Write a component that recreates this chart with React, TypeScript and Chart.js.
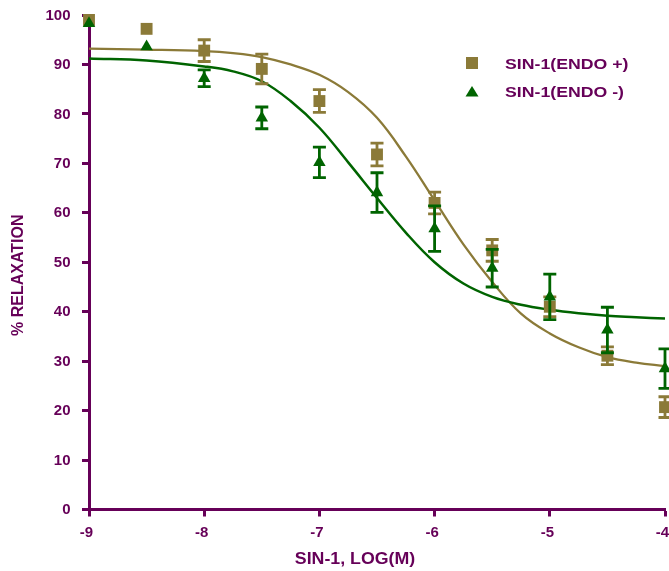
import React, { useEffect, useRef } from "react";
import { Chart, registerables } from "chart.js";

Chart.register(...registerables);

// ---- data ----
const doseLog = [-9, -8.5, -8, -7.5, -7, -6.5, -6, -5.5, -5, -4.5, -4];
const endoPlusMean = [99.0, 97.2, 92.8, 89.1, 82.6, 71.8, 62.0, 52.4, 41.0, 31.1, 20.7];
const endoPlusSem = [0, 0, 2.2, 3.0, 2.3, 2.3, 2.2, 2.2, 2.0, 1.8, 2.1];
const endoMinusMean = [98.3, 93.6, 87.2, 79.2, 70.2, 64.1, 56.8, 48.8, 43.0, 36.3, 28.5];
const endoMinusSem = [0, 0, 1.7, 2.2, 3.1, 4.0, 4.6, 3.8, 4.6, 4.6, 4.0];

const curveX = [-9, -8.5, -8, -7.75, -7.5, -7.25, -7, -6.75, -6.5, -6.25, -6, -5.75, -5.5, -5.25, -5, -4.75, -4.5, -4.25, -4];
const endoPlusFit = [93.2, 93.0, 92.7, 92.3, 91.5, 90.0, 87.9, 84.4, 79.2, 71.4, 62.5, 53.6, 46.0, 39.6, 35.6, 32.8, 30.8, 29.7, 29.0];
const endoMinusFit = [91.2, 90.8, 89.6, 88.6, 86.6, 82.6, 77.2, 70.2, 63.0, 56.0, 50.0, 45.7, 43.0, 41.4, 40.4, 39.7, 39.2, 38.9, 38.6];

const yTicks = [0, 10, 20, 30, 40, 50, 60, 70, 80, 90, 100];
const xTicks = [-9, -8, -7, -6, -5, -4];

const seriesNames = ["SIN-1(ENDO +)", "SIN-1(ENDO -)"];
const xTitle = "SIN-1, LOG(M)";
const yTitle = "% RELAXATION";

// ---- styles ----
const PURPLE = "#660058";
const OLIVE = "#8B7A38";
const GREEN = "#006400";
const FONT = "'Liberation Sans', Arial, sans-serif";

function drawStretched(ctx: CanvasRenderingContext2D, text: string, x: number, y: number, sx: number) {
  ctx.save();
  ctx.translate(x, y);
  ctx.scale(sx, 1);
  ctx.fillText(text, 0, 0);
  ctx.restore();
}

const errorBarPlugin = {
  id: "errorBars",
  beforeDatasetDraw(chart: any, args: any) {
    const ds = chart.data.datasets[args.index];
    const errs: number[] | undefined = ds.errors;
    if (!errs) return;
    const ctx = chart.ctx as CanvasRenderingContext2D;
    const xs = chart.scales.x;
    const ys = chart.scales.y;
    ctx.save();
    ctx.strokeStyle = ds.backgroundColor;
    ctx.lineWidth = 2.8;
    ds.data.forEach((p: any, i: number) => {
      const e = errs[i];
      if (!e) return;
      const px = xs.getPixelForValue(p.x);
      const top = ys.getPixelForValue(p.y + e);
      const bot = ys.getPixelForValue(p.y - e);
      ctx.beginPath();
      ctx.moveTo(px, top);
      ctx.lineTo(px, bot);
      ctx.moveTo(px - 6.5, top);
      ctx.lineTo(px + 6.5, top);
      ctx.moveTo(px - 6.5, bot);
      ctx.lineTo(px + 6.5, bot);
      ctx.stroke();
    });
    ctx.restore();
  },
};

const decorPlugin = {
  id: "decor",
  afterDraw(chart: any) {
    const ctx = chart.ctx as CanvasRenderingContext2D;
    const a = chart.chartArea;
    const xs = chart.scales.x;
    const ys = chart.scales.y;
    ctx.save();
    ctx.fillStyle = PURPLE;
    ctx.textBaseline = "middle";

    // tick labels
    ctx.font = `bold 15px ${FONT}`;
    ctx.textAlign = "right";
    yTicks.forEach((v) => {
      ctx.fillText(String(v), a.left - 18.5, ys.getPixelForValue(v) + 0.5);
    });
    ctx.textAlign = "center";
    xTicks.forEach((v) => {
      ctx.fillText(String(v), xs.getPixelForValue(v) - 2.5, a.bottom + 23.5);
    });

    // x axis title
    ctx.font = `bold 16px ${FONT}`;
    ctx.textAlign = "center";
    drawStretched(ctx, xTitle, a.left + 266, a.bottom + 50, 1.11);

    // y axis title
    ctx.save();
    ctx.translate(18.5, (a.top + a.bottom) / 2 + 13);
    ctx.rotate(-Math.PI / 2);
    ctx.font = `bold 16px ${FONT}`;
    ctx.textAlign = "center";
    ctx.fillText(yTitle, 0, 0);
    ctx.restore();

    // legend
    const lx = a.left + 383;
    const ly1 = a.top + 48;
    const ly2 = a.top + 77;
    ctx.fillStyle = OLIVE;
    ctx.fillRect(lx - 6, ly1 - 6, 12, 12);
    ctx.fillStyle = GREEN;
    ctx.beginPath();
    ctx.moveTo(lx, ly2 - 6);
    ctx.lineTo(lx + 6.5, ly2 + 4.5);
    ctx.lineTo(lx - 6.5, ly2 + 4.5);
    ctx.closePath();
    ctx.fill();
    ctx.fillStyle = PURPLE;
    ctx.font = `bold 15px ${FONT}`;
    ctx.textAlign = "left";
    drawStretched(ctx, seriesNames[0], lx + 33, ly1 + 1.5, 1.18);
    drawStretched(ctx, seriesNames[1], lx + 33, ly2 + 1, 1.18);
    ctx.restore();
  },
};

export default function App() {
  const canvasRef = useRef<HTMLCanvasElement | null>(null);

  useEffect(() => {
    if (!canvasRef.current) return;
    const plusPts = doseLog.map((x, i) => ({ x, y: endoPlusMean[i] }));
    const minusPts = doseLog.map((x, i) => ({ x, y: endoMinusMean[i] }));
    const plusFit = curveX.map((x, i) => ({ x, y: endoPlusFit[i] }));
    const minusFit = curveX.map((x, i) => ({ x, y: endoMinusFit[i] }));

    const axisCommon = {
      type: "linear",
      grid: {
        drawOnChartArea: false,
        drawTicks: true,
        tickLength: 7,
        tickWidth: 3,
        tickColor: PURPLE,
      },
      border: { display: true, color: PURPLE, width: 3 },
      ticks: { display: false, autoSkip: false },
    };

    const chart = new Chart(canvasRef.current, {
      type: "scatter",
      data: {
        datasets: [
          {
            label: seriesNames[1],
            data: minusPts,
            errors: endoMinusSem,
            backgroundColor: GREEN,
            borderColor: GREEN,
            borderWidth: 0,
            pointStyle: "triangle",
            pointRadius: 7.2,
            showLine: false,
            clip: false,
            order: 0,
          } as any,
          {
            label: seriesNames[0],
            data: plusPts,
            errors: endoPlusSem,
            backgroundColor: OLIVE,
            borderColor: OLIVE,
            borderWidth: 0,
            pointStyle: "rect",
            pointRadius: 8.4,
            showLine: false,
            clip: false,
            order: 1,
          } as any,
          {
            label: "fit -",
            data: minusFit,
            type: "line",
            borderColor: GREEN,
            borderWidth: 2.5,
            pointRadius: 0,
            tension: 0.4,
            fill: false,
            clip: false,
            order: 2,
          } as any,
          {
            label: "fit +",
            data: plusFit,
            type: "line",
            borderColor: OLIVE,
            borderWidth: 2.3,
            pointRadius: 0,
            tension: 0.4,
            fill: false,
            clip: false,
            order: 3,
          } as any,
        ],
      },
      options: {
        animation: false,
        responsive: false,
        devicePixelRatio: 1,
        layout: { autoPadding: false, padding: { top: 15, right: 4, left: 0, bottom: 0 } },
        plugins: {
          legend: { display: false },
          tooltip: { enabled: false },
        },
        scales: {
          x: {
            ...axisCommon,
            min: -9,
            max: -4,
            afterBuildTicks: (s: any) => {
              s.ticks = xTicks.map((v) => ({ value: v }));
            },
            afterFit: (s: any) => {
              s.height = 61.5;
            },
          },
          y: {
            ...axisCommon,
            min: 0,
            max: 100,
            afterBuildTicks: (s: any) => {
              s.ticks = yTicks.map((v) => ({ value: v }));
            },
            afterFit: (s: any) => {
              s.width = 89;
            },
          },
        },
      },
      plugins: [errorBarPlugin, decorPlugin],
    } as any);

    return () => chart.destroy();
  }, []);

  return (
    <div style={{ position: "fixed", left: 0, top: 0, width: 669, height: 571, background: "#fff" }}>
      <canvas ref={canvasRef} width={669} height={571} style={{ width: 669, height: 571, display: "block" }} />
    </div>
  );
}
